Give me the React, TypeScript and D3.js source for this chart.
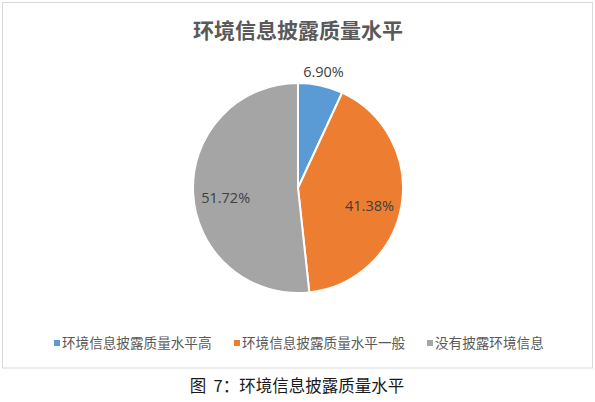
import { useEffect, useRef } from "react"
import * as d3 from "d3"

const categories = ["环境信息披露质量水平高", "环境信息披露质量水平一般", "没有披露环境信息"]
const shares = [6.9, 41.38, 51.72]
const colors = ["#5B9BD5", "#ED7D31", "#A5A5A5"]
const chartTitle = "环境信息披露质量水平"
const caption = "图 7：环境信息披露质量水平"

const W = 595
const H = 402
const cjk = "'Noto Sans CJK SC', 'Noto Sans', sans-serif"

export default function App() {
  const svgRef = useRef<SVGSVGElement>(null)

  useEffect(() => {
    if (!svgRef.current) return
    const svg = d3.select(svgRef.current)
    svg.selectAll("*").remove()

    // chart frame
    svg
      .append("rect")
      .attr("x", 2.5)
      .attr("y", 2.5)
      .attr("width", 590)
      .attr("height", 365.5)
      .attr("fill", "white")
      .attr("stroke", "#D9D9D9")

    svg
      .append("text")
      .attr("x", 298)
      .attr("y", 38)
      .attr("text-anchor", "middle")
      .attr("font-family", cjk)
      .attr("font-weight", "bold")
      .attr("font-size", 21)
      .attr("fill", "#595959")
      .text(chartTitle)

    const cx = 298
    const cy = 188
    const r = 105

    const pie = d3
      .pie<number>()
      .sort(null)
      .value((d) => d)
    const arcs = pie(shares)
    const arc = d3.arc<d3.PieArcDatum<number>>().innerRadius(0).outerRadius(r)

    const g = svg.append("g").attr("transform", `translate(${cx},${cy})`)

    g.selectAll("path")
      .data(arcs)
      .enter()
      .append("path")
      .attr("d", arc)
      .attr("fill", (_, i) => colors[i])
      .attr("stroke", "white")
      .attr("stroke-width", 2)

    // labels: small slice outside, the others inside
    const inner = d3.arc<d3.PieArcDatum<number>>().innerRadius(r * 0.69).outerRadius(r * 0.69)
    const outer = d3.arc<d3.PieArcDatum<number>>().innerRadius(r * 1.13).outerRadius(r * 1.13)

    g.selectAll("text.lbl")
      .data(arcs)
      .enter()
      .append("text")
      .attr("class", "lbl")
      .attr("transform", (d, i) => {
        const [x, y] = i === 0 ? outer.centroid(d) : inner.centroid(d)
        return `translate(${x},${i === 0 ? y : y + 6})`
      })
      .attr("text-anchor", "middle")
      .attr("dy", "0.35em")
      .attr("font-family", "'Open Sans', 'Noto Sans', sans-serif")
      .attr("font-size", 14.5)
      .attr("fill", "#404040")
      .text((d) => `${d.data.toFixed(2)}%`)

    // legend
    const legendX = [54, 234, 427]
    const legend = svg
      .selectAll("g.leg")
      .data(categories)
      .enter()
      .append("g")
      .attr("class", "leg")
      .attr("transform", (_, i) => `translate(${legendX[i]},343)`)

    legend
      .append("rect")
      .attr("x", 0)
      .attr("y", -3)
      .attr("width", 6)
      .attr("height", 6)
      .attr("fill", (_, i) => colors[i])

    legend
      .append("text")
      .attr("x", 8)
      .attr("dy", "0.35em")
      .attr("font-family", cjk)
      .attr("font-size", 13.6)
      .attr("fill", "#595959")
      .text((d) => d)

    svg
      .append("text")
      .attr("x", 297)
      .attr("y", 392)
      .attr("text-anchor", "middle")
      .attr("font-family", cjk)
      .attr("font-size", 16.5)
      .attr("fill", "#1a1a1a")
      .attr("style", "white-space: pre")
      .text(caption.replace(" ", "  "))
  }, [])

  return (
    <svg
      ref={svgRef}
      width={W}
      height={H}
      style={{ position: "absolute", left: 0, top: 0, background: "white" }}
    />
  )
}
